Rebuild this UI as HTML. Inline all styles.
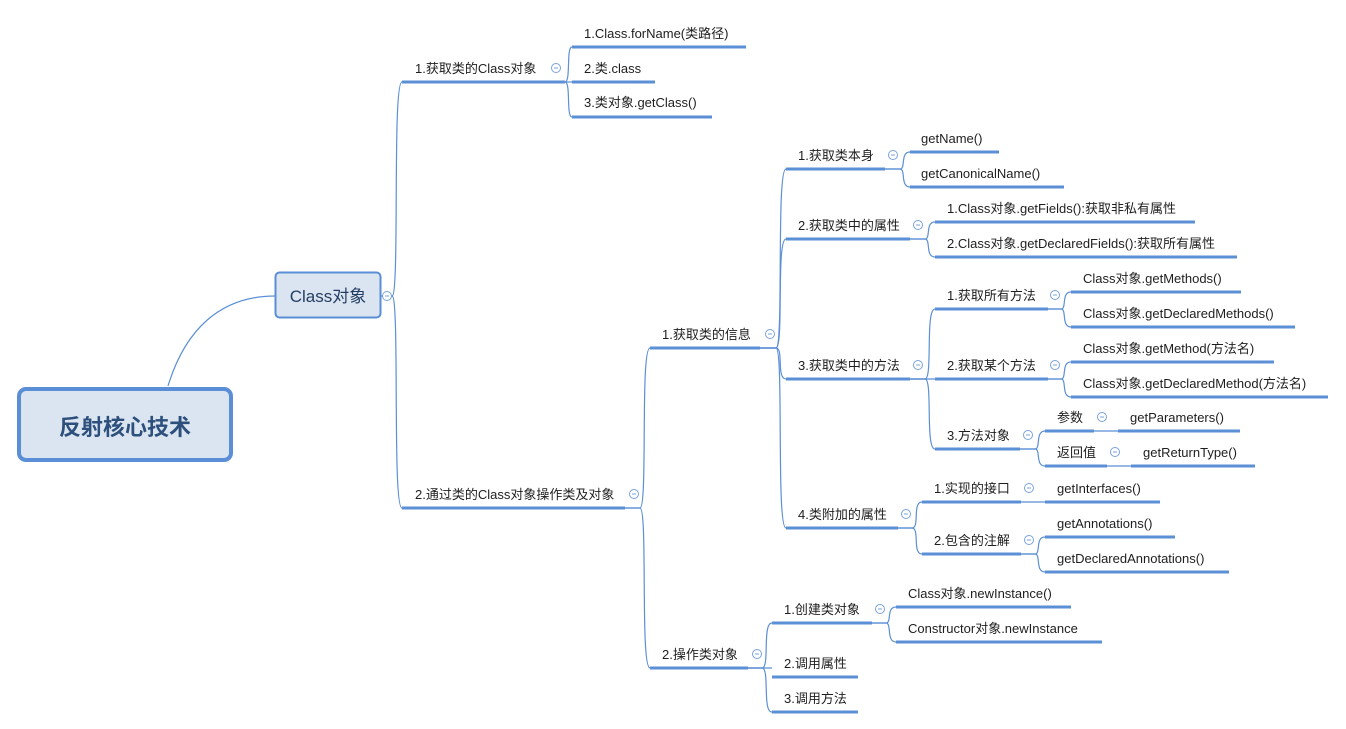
<!DOCTYPE html>
<html><head><meta charset="utf-8"><style>
html,body{margin:0;padding:0;background:#fff;}
svg{display:block;}
text{font-family:"Liberation Sans","Noto Sans CJK SC",sans-serif;font-size:13px;fill:#1e1e1e;}
.u{stroke:#5b8fd6;stroke-width:3;fill:none;}
.c{stroke:#5b8fd6;stroke-width:1.2;fill:none;}
.k{fill:#fff;stroke:#7aa3dc;stroke-width:1;}
</style></head><body>
<svg width="1346" height="729" viewBox="0 0 1346 729">
<!-- connectors -->
<path class="c" d="M168 386 C185 330 220 296 275 296"/>
<path class="c" d="M380 296 H392 C400 296 392 82 402 82"/>
<path class="c" d="M380 296 H392 C400 296 392 508 402 508"/>
<path class="c" d="M565 82 C571 82 566 47 572 47"/>
<path class="c" d="M565 82 H572"/>
<path class="c" d="M565 82 C571 82 566 117 572 117"/>
<path class="c" d="M625 508 H640 C648 508 640 348 650 348"/>
<path class="c" d="M625 508 H640 C648 508 640 668 650 668"/>
<path class="c" d="M760 348 H776 C784 348 776 169 786 169"/>
<path class="c" d="M760 348 H776 C784 348 776 239 786 239"/>
<path class="c" d="M760 348 H776 C784 348 776 379 786 379"/>
<path class="c" d="M760 348 H776 C784 348 776 528 786 528"/>
<path class="c" d="M885 169 H900 C906 169 900 152 910 152"/>
<path class="c" d="M885 169 H900 C906 169 900 187 910 187"/>
<path class="c" d="M910 239 H925 C931 239 925 222 935 222"/>
<path class="c" d="M910 239 H925 C931 239 925 257 935 257"/>
<path class="c" d="M910 379 H925 C933 379 925 309 935 309"/>
<path class="c" d="M910 379 H935"/>
<path class="c" d="M910 379 H925 C933 379 925 449 935 449"/>
<path class="c" d="M1048 309 H1061 C1067 309 1061 292 1071 292"/>
<path class="c" d="M1048 309 H1061 C1067 309 1061 327 1071 327"/>
<path class="c" d="M1048 379 H1061 C1067 379 1061 362 1071 362"/>
<path class="c" d="M1048 379 H1061 C1067 379 1061 397 1071 397"/>
<path class="c" d="M1020 449 H1035 C1041 449 1035 431 1045 431"/>
<path class="c" d="M1020 449 H1035 C1041 449 1035 466 1045 466"/>
<path class="c" d="M1094 431 H1118"/>
<path class="c" d="M1107 466 H1131"/>
<path class="c" d="M898 528 H912 C920 528 912 502 922 502"/>
<path class="c" d="M898 528 H912 C920 528 912 554 922 554"/>
<path class="c" d="M1021 502 H1045"/>
<path class="c" d="M1021 554 H1035 C1041 554 1035 537 1045 537"/>
<path class="c" d="M1021 554 H1035 C1041 554 1035 572 1045 572"/>
<path class="c" d="M748 668 H762 C770 668 762 623 772 623"/>
<path class="c" d="M748 668 H772"/>
<path class="c" d="M748 668 H762 C770 668 762 712 772 712"/>
<path class="c" d="M872 623 H886 C892 623 886 607 896 607"/>
<path class="c" d="M872 623 H886 C892 623 886 642 896 642"/>

<!-- root -->
<rect x="19" y="389" width="212" height="71" rx="7" fill="#dbe5f1" stroke="#5a8ed6" stroke-width="4"/>
<text x="125" y="435" text-anchor="middle" style="font-size:22px;font-weight:bold;fill:#2c4f7c">反射核心技术</text>
<rect x="275.5" y="272.5" width="105" height="45" rx="4" fill="#dbe5f1" stroke="#5a8ed6" stroke-width="2"/>
<text x="328" y="302" text-anchor="middle" style="font-size:17px;fill:#243e63">Class对象</text>

<!-- underlines -->
<g class="u">
<path d="M402 82H565"/><path d="M402 508H625"/>
<path d="M572 47H746"/><path d="M572 82H655"/><path d="M572 117H712"/>
<path d="M650 348H760"/><path d="M650 668H748"/>
<path d="M786 169H885"/><path d="M786 239H910"/><path d="M786 379H910"/><path d="M786 528H898"/>
<path d="M910 152H999"/><path d="M910 187H1064"/>
<path d="M935 222H1195"/><path d="M935 257H1237"/>
<path d="M935 309H1048"/><path d="M935 379H1048"/><path d="M935 449H1020"/>
<path d="M1071 292H1241"/><path d="M1071 327H1295"/>
<path d="M1071 362H1274"/><path d="M1071 397H1328"/>
<path d="M1045 431H1094"/><path d="M1045 466H1107"/>
<path d="M1118 431H1240"/><path d="M1131 466H1255"/>
<path d="M922 502H1021"/><path d="M922 554H1021"/>
<path d="M1045 502H1160"/><path d="M1045 537H1175"/><path d="M1045 572H1229"/>
<path d="M772 623H872"/><path d="M772 677H858"/><path d="M772 712H858"/>
<path d="M896 607H1071"/><path d="M896 642H1102"/>
</g>

<!-- collapse circles -->
<g>
<circle class="k" cx="387" cy="296" r="4.5"/><circle class="k" cx="556" cy="68" r="4.5"/>
<circle class="k" cx="634" cy="494" r="4.5"/><circle class="k" cx="770" cy="334" r="4.5"/>
<circle class="k" cx="757" cy="654" r="4.5"/><circle class="k" cx="893" cy="155" r="4.5"/>
<circle class="k" cx="918" cy="225" r="4.5"/><circle class="k" cx="918" cy="365" r="4.5"/>
<circle class="k" cx="1055" cy="295" r="4.5"/><circle class="k" cx="1055" cy="365" r="4.5"/>
<circle class="k" cx="1028" cy="435" r="4.5"/><circle class="k" cx="1102" cy="417" r="4.5"/>
<circle class="k" cx="1115" cy="452" r="4.5"/><circle class="k" cx="906" cy="514" r="4.5"/>
<circle class="k" cx="1029" cy="488" r="4.5"/><circle class="k" cx="1029" cy="540" r="4.5"/>
<circle class="k" cx="880" cy="609" r="4.5"/>
</g>
<g stroke="#7aa3dc" stroke-width="1">
<path d="M385 296h4M554 68h4M632 494h4M768 334h4M755 654h4M891 155h4M916 225h4M916 365h4M1053 295h4M1053 365h4M1026 435h4M1100 417h4M1113 452h4M904 514h4M1027 488h4M1027 540h4M878 609h4"/>
</g>

<!-- labels -->
<text x="415" y="73">1.获取类的Class对象</text>
<text x="415" y="499">2.通过类的Class对象操作类及对象</text>
<text x="584" y="38">1.Class.forName(类路径)</text>
<text x="584" y="73">2.类.class</text>
<text x="584" y="107">3.类对象.getClass()</text>
<text x="662" y="339">1.获取类的信息</text>
<text x="662" y="659">2.操作类对象</text>
<text x="798" y="160">1.获取类本身</text>
<text x="798" y="230">2.获取类中的属性</text>
<text x="798" y="370">3.获取类中的方法</text>
<text x="798" y="519">4.类附加的属性</text>
<text x="921" y="143">getName()</text>
<text x="921" y="178">getCanonicalName()</text>
<text x="947" y="213">1.Class对象.getFields():获取非私有属性</text>
<text x="947" y="248">2.Class对象.getDeclaredFields():获取所有属性</text>
<text x="947" y="300">1.获取所有方法</text>
<text x="947" y="370">2.获取某个方法</text>
<text x="947" y="440">3.方法对象</text>
<text x="1083" y="283">Class对象.getMethods()</text>
<text x="1083" y="318">Class对象.getDeclaredMethods()</text>
<text x="1083" y="353">Class对象.getMethod(方法名)</text>
<text x="1083" y="388">Class对象.getDeclaredMethod(方法名)</text>
<text x="1057" y="422">参数</text>
<text x="1057" y="457">返回值</text>
<text x="1130" y="422">getParameters()</text>
<text x="1143" y="457">getReturnType()</text>
<text x="934" y="493">1.实现的接口</text>
<text x="934" y="545">2.包含的注解</text>
<text x="1057" y="493">getInterfaces()</text>
<text x="1057" y="528">getAnnotations()</text>
<text x="1057" y="563">getDeclaredAnnotations()</text>
<text x="784" y="614">1.创建类对象</text>
<text x="784" y="668">2.调用属性</text>
<text x="784" y="703">3.调用方法</text>
<text x="908" y="598">Class对象.newInstance()</text>
<text x="908" y="633">Constructor对象.newInstance</text>
</svg>
</body></html>
